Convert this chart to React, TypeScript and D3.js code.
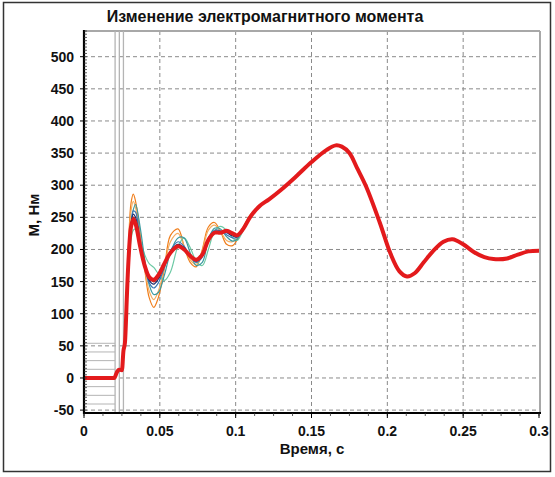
import React from "react";
import * as d3 from "d3";

// Time grid (s) and torque values (N·m)
const startTimes = [0, 0.02, 0.0215, 0.023, 0.025, 0.026, 0.027];
const startValues = [0, 0, 8, 13, 12, 42, 55];

const transientTimes = [
  0.028, 0.0295, 0.031, 0.0325, 0.034, 0.037, 0.04, 0.043, 0.046, 0.049, 0.053,
  0.057, 0.062, 0.066, 0.07, 0.074, 0.078, 0.082, 0.086, 0.09, 0.094, 0.098,
  0.101, 0.105, 0.11,
];

const tailTimes = [
  0.116, 0.122, 0.13, 0.14, 0.15, 0.16, 0.166, 0.17, 0.175, 0.18, 0.186, 0.195,
  0.202, 0.208, 0.213, 0.218, 0.224, 0.23, 0.237, 0.243, 0.25, 0.257, 0.264,
  0.27, 0.279, 0.286, 0.293, 0.3,
];
const tailValues = [
  268, 278, 293, 314, 336, 355, 362, 360, 350, 327, 298, 242, 194, 166, 158,
  163, 180, 197, 212, 216, 208, 196, 188, 185, 186, 192, 197, 198,
];

const orangeValues = [120, 215, 272, 286, 275, 225, 170, 125, 110, 125, 170, 222, 232, 205, 180, 173, 200, 235, 242, 228, 208, 206, 215, 235, 255];
const lightOrangeValues = [115, 205, 260, 275, 265, 218, 172, 135, 122, 135, 172, 212, 225, 205, 184, 177, 198, 230, 238, 228, 214, 212, 218, 234, 254];
const tealValues = [105, 180, 235, 262, 270, 235, 185, 145, 130, 133, 160, 195, 218, 218, 195, 175, 180, 215, 233, 232, 220, 213, 216, 232, 252];
const lightGreenValues = [100, 170, 215, 230, 232, 215, 192, 178, 172, 162, 152, 165, 205, 218, 203, 182, 175, 200, 228, 236, 230, 218, 214, 230, 250];
const steelBlueValues = [108, 185, 240, 260, 258, 215, 175, 148, 140, 148, 172, 198, 212, 205, 190, 180, 188, 218, 230, 229, 223, 218, 219, 232, 252];
const navyValues = [108, 188, 238, 255, 250, 210, 175, 152, 146, 154, 175, 197, 208, 203, 190, 182, 190, 217, 228, 228, 226, 221, 220, 232, 252];
const darkRedValues = [110, 190, 236, 250, 245, 207, 175, 155, 150, 157, 176, 196, 206, 201, 190, 183, 191, 216, 227, 227, 228, 223, 221, 232, 252];
const redValues = [110, 190, 235, 247, 240, 205, 175, 157, 153, 160, 178, 195, 205, 200, 190, 184, 192, 215, 226, 226, 229, 225, 222, 232, 252];

const seriesNames = ["orange", "lightOrange", "lightGreen", "teal", "steelBlue", "navy", "darkRed", "red"];
const seriesColors = ["#f07d1a", "#f5ae62", "#6cc9a4", "#3a9aa0", "#3b78b5", "#1f2a6b", "#9e2a2a", "#e31a1c"];
const seriesWidths = [1.2, 1.2, 1.2, 1.2, 1.2, 1.2, 1.6, 4];
const seriesTransients = [orangeValues, lightOrangeValues, lightGreenValues, tealValues, steelBlueValues, navyValues, darkRedValues, redValues];

const xTicks = [0, 0.05, 0.1, 0.15, 0.2, 0.25, 0.3];
const xTickLabels = ["0", "0.05", "0.1", "0.15", "0.2", "0.25", "0.3"];
const yTicks = [-50, 0, 50, 100, 150, 200, 250, 300, 350, 400, 450, 500];

// Switching instants and auxiliary level marks in the start-up zone
const switchTimes = [0.0205, 0.0233, 0.026];
const levelMarks = [54, 40.5, 27, 13.5, -13.5, -27, -40.5];

const left = 84;
const right = 539;
const top = 31;
const bottom = 413;

export default function App() {
  const x = d3.scaleLinear().domain([0, 0.3]).range([left, right]);
  const y = d3.scaleLinear().domain([-54.5, 540]).range([bottom, top]);

  // Step-like start-up part: monotone, so nothing overshoots the flat zero
  const startLine = d3
    .line<[number, number]>()
    .x((d) => x(d[0]))
    .y((d) => y(d[1]))
    .curve(d3.curveMonotoneX);
  // Oscillating part: smooth Catmull-Rom
  const smoothLine = d3
    .line<[number, number]>()
    .x((d) => x(d[0]))
    .y((d) => y(d[1]))
    .curve(d3.curveCatmullRom.alpha(0.5));

  const buildPath = (transient: number[]): string => {
    const head: [number, number][] = startTimes.map((t, i) => [t, startValues[i]]);
    head.push([transientTimes[0], transient[0]]);
    const rest: [number, number][] = [];
    transientTimes.forEach((t, i) => rest.push([t, transient[i]]));
    tailTimes.forEach((t, i) => rest.push([t, tailValues[i]]));
    const restPath = smoothLine(rest) || "";
    return (startLine(head) || "") + "L" + restPath.slice(1);
  };

  const xMinor = d3.range(0, 0.3001, 0.0125);
  const yMinor = d3.range(-50, 541, 5);

  const font = "'Liberation Sans', Arial, sans-serif";

  return (
    <svg width={555} height={477} style={{ display: "block", position: "absolute", left: 0, top: 0 }} fontFamily={font}>
      <rect x={0} y={0} width={555} height={477} fill="#fff" />
      <rect x={3.5} y={2.5} width={547} height={469} fill="none" stroke="#333" strokeWidth={1.5} />
      <text x={265} y={22} textAnchor="middle" fontSize={16} fontWeight="bold" fill="#111">
        Изменение электромагнитного момента
      </text>

      <defs>
        <clipPath id="plotClip">
          <rect x={left} y={top} width={right - left} height={bottom - top} />
        </clipPath>
      </defs>

      {/* grid */}
      {xTicks.slice(1, -1).map((t) => (
        <line key={"gx" + t} x1={x(t)} x2={x(t)} y1={top} y2={bottom} stroke="#8a8a8a" strokeWidth={1} strokeDasharray="4,3" />
      ))}
      {yTicks.map((v) => (
        <line key={"gy" + v} x1={left} x2={right} y1={y(v)} y2={y(v)} stroke="#8a8a8a" strokeWidth={1} strokeDasharray="4,3" />
      ))}

      {/* plot frame top/right */}
      <line x1={left} x2={right + 1} y1={top} y2={top} stroke="#a8a8a8" strokeWidth={2} />
      <line x1={right + 1} x2={right + 1} y1={top} y2={bottom} stroke="#a8a8a8" strokeWidth={2} />

      {/* start-up zone marks */}
      {switchTimes.map((t) => (
        <line key={"sw" + t} x1={x(t)} x2={x(t)} y1={top} y2={bottom} stroke="#b4b4b4" strokeWidth={1.3} />
      ))}
      {levelMarks.map((v) => (
        <line key={"lv" + v} x1={left} x2={x(switchTimes[0])} y1={y(v)} y2={y(v)} stroke="#b4b4b4" strokeWidth={1} />
      ))}

      {/* series */}
      <g clipPath="url(#plotClip)">
        {seriesTransients.map((vals, i) => (
          <path
            key={seriesNames[i]}
            d={buildPath(vals)}
            fill="none"
            stroke={seriesColors[i]}
            strokeWidth={seriesWidths[i]}
            strokeLinejoin="round"
          />
        ))}
      </g>

      {/* axes */}
      <line x1={left} x2={left} y1={top - 1} y2={bottom + 1} stroke="#000" strokeWidth={2.2} />
      <line x1={left - 1} x2={right + 2} y1={bottom} y2={bottom} stroke="#000" strokeWidth={2.2} />
      {yMinor.map((v) => (
        <line key={"ym" + v} x1={left} x2={left + 3} y1={y(v)} y2={y(v)} stroke="#333" strokeWidth={0.8} />
      ))}
      {yTicks.map((v) => (
        <g key={"yt" + v}>
          <line x1={left - 4} x2={left} y1={y(v)} y2={y(v)} stroke="#000" strokeWidth={1} />
          <text x={left - 10} y={y(v) + 5} textAnchor="end" fontSize={14} fontWeight="bold" fill="#111">
            {v}
          </text>
        </g>
      ))}
      {xMinor.map((t) => (
        <line key={"xm" + t} x1={x(t)} x2={x(t)} y1={bottom} y2={bottom + 3} stroke="#333" strokeWidth={0.8} />
      ))}
      {xTicks.map((t, i) => (
        <g key={"xt" + t}>
          <line x1={x(t)} x2={x(t)} y1={bottom} y2={bottom + 5} stroke="#000" strokeWidth={1} />
          <text x={x(t)} y={bottom + 23} textAnchor="middle" fontSize={14} fontWeight="bold" fill="#111">
            {xTickLabels[i]}
          </text>
        </g>
      ))}

      <text x={312} y={454} textAnchor="middle" fontSize={15} fontWeight="bold" fill="#111">
        Время, с
      </text>
      <text
        transform={`translate(39,215) rotate(-90)`}
        textAnchor="middle"
        fontSize={15}
        fontWeight="bold"
        fill="#111"
      >
        М, Нм
      </text>
    </svg>
  );
}
